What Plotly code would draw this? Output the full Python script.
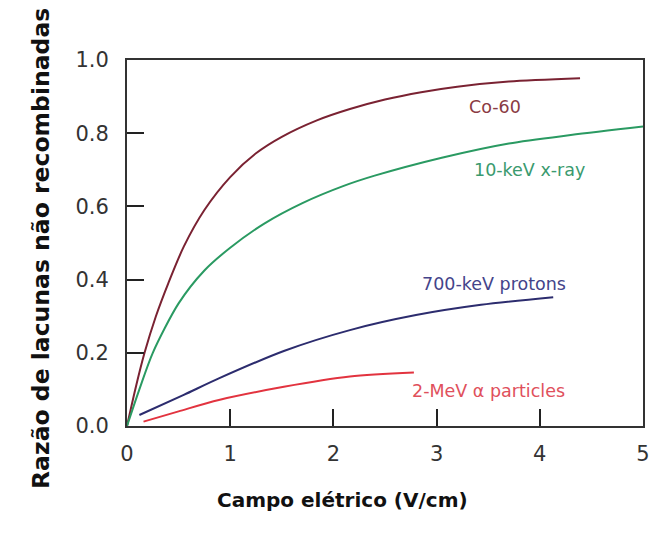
import plotly.graph_objects as go

# ---- data ----
co60_x = [0, 0.08, 0.17, 0.28, 0.4, 0.55, 0.75, 1.0, 1.25, 1.5, 1.84, 2.16, 2.5, 2.85, 3.2, 3.7, 4.39]
co60_y = [0, 0.10, 0.20, 0.30, 0.39, 0.49, 0.59, 0.68, 0.745, 0.79, 0.835, 0.866, 0.892, 0.912, 0.927, 0.941, 0.950]

xray_x = [0, 0.12, 0.25, 0.5, 0.75, 1.0, 1.33, 1.7, 2.1, 2.4, 3.05, 3.7, 4.3, 5.0]
xray_y = [0, 0.10, 0.20, 0.335, 0.425, 0.487, 0.553, 0.609, 0.656, 0.684, 0.733, 0.772, 0.795, 0.818]

protons_x = [0.12, 0.55, 0.89, 1.52, 2.16, 2.8, 3.43, 4.13]
protons_y = [0.030, 0.085, 0.13, 0.205, 0.262, 0.303, 0.331, 0.352]

alpha_x = [0.16, 0.5, 0.89, 1.52, 2.16, 2.78]
alpha_y = [0.012, 0.04, 0.071, 0.107, 0.135, 0.146]

series_names = ["Co-60", "10-keV x-ray", "700-keV protons", "2-MeV \u03b1 particles"]
label_x = [3.57, 3.9, 3.56, 3.5]
label_y = [0.872, 0.70, 0.388, 0.096]

x_ticks = [0, 1, 2, 3, 4, 5]
y_ticks = [0.0, 0.2, 0.4, 0.6, 0.8, 1.0]
y_ticktext = ["0.0", "0.2", "0.4", "0.6", "0.8", "1.0"]

x_title = "Campo el\u00e9trico (V/cm)"
y_title = "Raz\u00e3o de lacunas n\u00e3o recombinadas"

line_colors = ["#7a2232", "#2a9a62", "#2c2c6e", "#e2333f"]
text_colors = ["#8a3a44", "#3a9a6e", "#44448a", "#e0505c"]

# ---- figure ----
W, H = 650, 535
L, R, T, B = 127, 7, 60, 109
pw, ph = W - L - R, H - T - B

fig = go.Figure()
for xs, ys, c, n in zip([co60_x, xray_x, protons_x, alpha_x],
                        [co60_y, xray_y, protons_y, alpha_y],
                        line_colors, series_names):
    fig.add_trace(go.Scatter(x=xs, y=ys, mode="lines", name=n,
                             line=dict(color=c, width=2, shape="spline", smoothing=0.8),
                             showlegend=False, hoverinfo="skip"))

for n, lx, ly, tc in zip(series_names, label_x, label_y, text_colors):
    fig.add_annotation(x=lx, y=ly, xref="x", yref="y", text=n, showarrow=False,
                       font=dict(family="DejaVu Sans", size=17.5, color=tc))

def px_to_paper_x(px):
    return (px - L) / pw

def px_to_paper_y(py):
    return (H - B - py) / ph

fig.add_annotation(x=px_to_paper_x(342), y=px_to_paper_y(514), xref="paper", yref="paper",
                   text=x_title, showarrow=False,
                   font=dict(family="DejaVu Sans", size=20, color="#111", weight="bold"))
fig.add_annotation(x=px_to_paper_x(25), y=px_to_paper_y(249), xref="paper", yref="paper",
                   text=y_title, showarrow=False, textangle=-90,
                   font=dict(family="DejaVu Sans", size=23.5, color="#111", weight="bold"))

axis_common = dict(showgrid=False, zeroline=False, showline=True, linecolor="#333",
                   linewidth=2, ticks="inside", ticklen=17, tickwidth=2, tickcolor="#222",
                   mirror=True, ticklabeloverflow="allow", automargin=False,
                   tickfont=dict(family="DejaVu Sans", size=21, color="#333"))

fig.update_xaxes(range=[0, 5], tickvals=x_ticks, ticktext=[str(v) for v in x_ticks],
                 ticklabelstandoff=8, **axis_common)
fig.update_yaxes(range=[0, 1], tickvals=y_ticks, ticktext=y_ticktext,
                 ticklabelstandoff=12, **axis_common)

fig.update_layout(width=W, height=H, margin=dict(l=L, r=R, t=T, b=B, pad=0, autoexpand=False),
                  plot_bgcolor="white", paper_bgcolor="white")

fig.write_html("out.html")
